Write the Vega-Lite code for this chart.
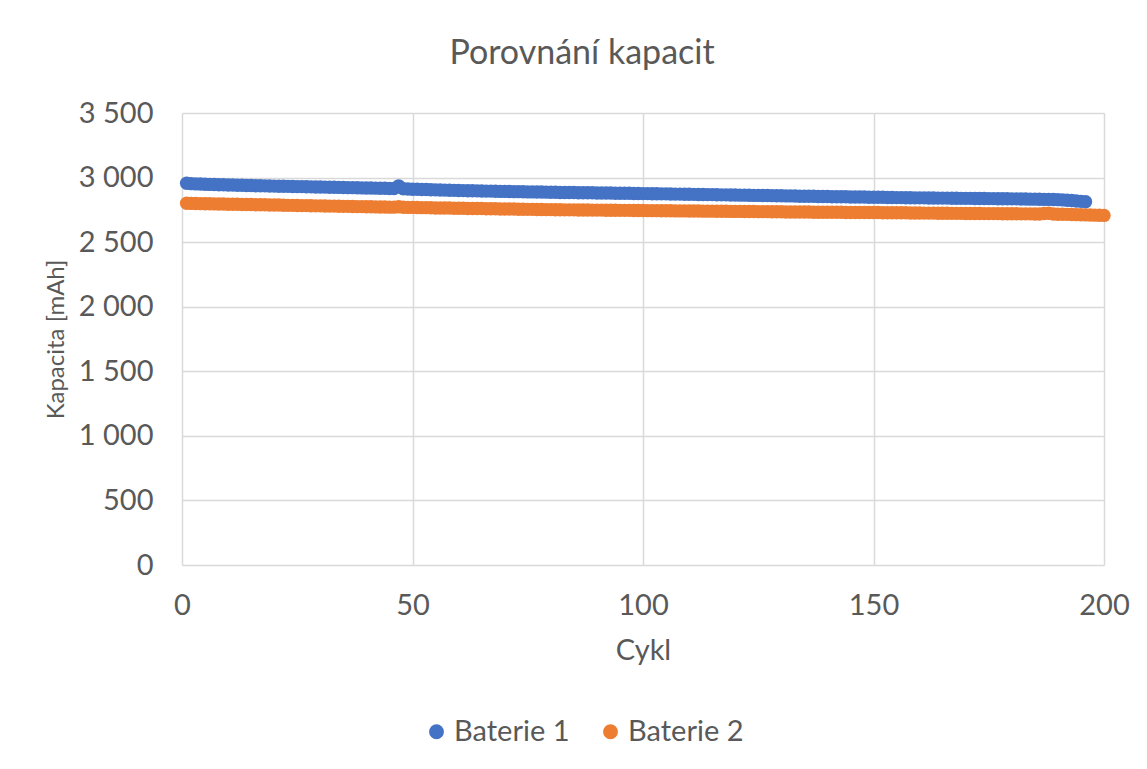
{
  "$schema": "https://vega.github.io/schema/vega-lite/v6.json",
  "autosize": {"type": "none"},
  "padding": {"left": 182, "top": 113, "right": 43, "bottom": 204},
  "width": 922,
  "height": 452,
  "background": "white",
  "title": {
    "text": "Porovnání kapacit",
    "anchor": "middle",
    "frame": "group",
    "dx": -61,
    "offset": 28,
    "font": "Lato",
    "fontSize": 34,
    "fontWeight": "normal",
    "color": "#595959"
  },
  "data": {
    "values": [
      {"c":1,"Baterie 1":2956,"Baterie 2":2801},{"c":2,"Baterie 1":2953,"Baterie 2":2800},{"c":3,"Baterie 1":2951,"Baterie 2":2799},{"c":4,"Baterie 1":2950,"Baterie 2":2798},{"c":5,"Baterie 1":2948,"Baterie 2":2797},
      {"c":6,"Baterie 1":2947,"Baterie 2":2797},{"c":7,"Baterie 1":2946,"Baterie 2":2796},{"c":8,"Baterie 1":2945,"Baterie 2":2795},{"c":9,"Baterie 1":2944,"Baterie 2":2795},{"c":10,"Baterie 1":2943,"Baterie 2":2794},
      {"c":11,"Baterie 1":2942,"Baterie 2":2793},{"c":12,"Baterie 1":2941,"Baterie 2":2793},{"c":13,"Baterie 1":2940,"Baterie 2":2792},{"c":14,"Baterie 1":2939,"Baterie 2":2791},{"c":15,"Baterie 1":2938,"Baterie 2":2791},
      {"c":16,"Baterie 1":2937,"Baterie 2":2790},{"c":17,"Baterie 1":2937,"Baterie 2":2789},{"c":18,"Baterie 1":2936,"Baterie 2":2789},{"c":19,"Baterie 1":2935,"Baterie 2":2788},{"c":20,"Baterie 1":2934,"Baterie 2":2787},
      {"c":21,"Baterie 1":2933,"Baterie 2":2787},{"c":22,"Baterie 1":2933,"Baterie 2":2786},{"c":23,"Baterie 1":2932,"Baterie 2":2785},{"c":24,"Baterie 1":2931,"Baterie 2":2785},{"c":25,"Baterie 1":2930,"Baterie 2":2784},
      {"c":26,"Baterie 1":2930,"Baterie 2":2783},{"c":27,"Baterie 1":2929,"Baterie 2":2783},{"c":28,"Baterie 1":2928,"Baterie 2":2782},{"c":29,"Baterie 1":2927,"Baterie 2":2781},{"c":30,"Baterie 1":2927,"Baterie 2":2781},
      {"c":31,"Baterie 1":2926,"Baterie 2":2780},{"c":32,"Baterie 1":2925,"Baterie 2":2779},{"c":33,"Baterie 1":2925,"Baterie 2":2779},{"c":34,"Baterie 1":2924,"Baterie 2":2778},{"c":35,"Baterie 1":2923,"Baterie 2":2777},
      {"c":36,"Baterie 1":2922,"Baterie 2":2777},{"c":37,"Baterie 1":2922,"Baterie 2":2776},{"c":38,"Baterie 1":2921,"Baterie 2":2775},{"c":39,"Baterie 1":2920,"Baterie 2":2775},{"c":40,"Baterie 1":2919,"Baterie 2":2774},
      {"c":41,"Baterie 1":2919,"Baterie 2":2774},{"c":42,"Baterie 1":2918,"Baterie 2":2773},{"c":43,"Baterie 1":2917,"Baterie 2":2772},{"c":44,"Baterie 1":2917,"Baterie 2":2772},{"c":45,"Baterie 1":2916,"Baterie 2":2771},
      {"c":46,"Baterie 1":2915,"Baterie 2":2771},{"c":47,"Baterie 1":2936,"Baterie 2":2774},{"c":48,"Baterie 1":2914,"Baterie 2":2770},{"c":49,"Baterie 1":2912,"Baterie 2":2769},{"c":50,"Baterie 1":2910,"Baterie 2":2769},
      {"c":51,"Baterie 1":2909,"Baterie 2":2768},{"c":52,"Baterie 1":2908,"Baterie 2":2767},{"c":53,"Baterie 1":2907,"Baterie 2":2767},{"c":54,"Baterie 1":2906,"Baterie 2":2766},{"c":55,"Baterie 1":2905,"Baterie 2":2765},
      {"c":56,"Baterie 1":2904,"Baterie 2":2765},{"c":57,"Baterie 1":2903,"Baterie 2":2764},{"c":58,"Baterie 1":2902,"Baterie 2":2764},{"c":59,"Baterie 1":2901,"Baterie 2":2763},{"c":60,"Baterie 1":2900,"Baterie 2":2762},
      {"c":61,"Baterie 1":2899,"Baterie 2":2762},{"c":62,"Baterie 1":2898,"Baterie 2":2761},{"c":63,"Baterie 1":2898,"Baterie 2":2761},{"c":64,"Baterie 1":2897,"Baterie 2":2760},{"c":65,"Baterie 1":2896,"Baterie 2":2760},
      {"c":66,"Baterie 1":2895,"Baterie 2":2759},{"c":67,"Baterie 1":2895,"Baterie 2":2758},{"c":68,"Baterie 1":2894,"Baterie 2":2758},{"c":69,"Baterie 1":2893,"Baterie 2":2757},{"c":70,"Baterie 1":2893,"Baterie 2":2757},
      {"c":71,"Baterie 1":2892,"Baterie 2":2756},{"c":72,"Baterie 1":2891,"Baterie 2":2756},{"c":73,"Baterie 1":2891,"Baterie 2":2755},{"c":74,"Baterie 1":2890,"Baterie 2":2755},{"c":75,"Baterie 1":2889,"Baterie 2":2754},
      {"c":76,"Baterie 1":2889,"Baterie 2":2754},{"c":77,"Baterie 1":2888,"Baterie 2":2753},{"c":78,"Baterie 1":2888,"Baterie 2":2753},{"c":79,"Baterie 1":2887,"Baterie 2":2752},{"c":80,"Baterie 1":2886,"Baterie 2":2752},
      {"c":81,"Baterie 1":2886,"Baterie 2":2751},{"c":82,"Baterie 1":2885,"Baterie 2":2751},{"c":83,"Baterie 1":2885,"Baterie 2":2750},{"c":84,"Baterie 1":2884,"Baterie 2":2750},{"c":85,"Baterie 1":2884,"Baterie 2":2750},
      {"c":86,"Baterie 1":2883,"Baterie 2":2749},{"c":87,"Baterie 1":2883,"Baterie 2":2749},{"c":88,"Baterie 1":2882,"Baterie 2":2749},{"c":89,"Baterie 1":2882,"Baterie 2":2748},{"c":90,"Baterie 1":2881,"Baterie 2":2748},
      {"c":91,"Baterie 1":2881,"Baterie 2":2748},{"c":92,"Baterie 1":2880,"Baterie 2":2747},{"c":93,"Baterie 1":2880,"Baterie 2":2747},{"c":94,"Baterie 1":2879,"Baterie 2":2747},{"c":95,"Baterie 1":2879,"Baterie 2":2746},
      {"c":96,"Baterie 1":2878,"Baterie 2":2746},{"c":97,"Baterie 1":2878,"Baterie 2":2746},{"c":98,"Baterie 1":2877,"Baterie 2":2745},{"c":99,"Baterie 1":2877,"Baterie 2":2745},{"c":100,"Baterie 1":2876,"Baterie 2":2745},
      {"c":101,"Baterie 1":2876,"Baterie 2":2744},{"c":102,"Baterie 1":2875,"Baterie 2":2744},{"c":103,"Baterie 1":2875,"Baterie 2":2744},{"c":104,"Baterie 1":2874,"Baterie 2":2743},{"c":105,"Baterie 1":2874,"Baterie 2":2743},
      {"c":106,"Baterie 1":2873,"Baterie 2":2743},{"c":107,"Baterie 1":2872,"Baterie 2":2742},{"c":108,"Baterie 1":2872,"Baterie 2":2742},{"c":109,"Baterie 1":2871,"Baterie 2":2742},{"c":110,"Baterie 1":2871,"Baterie 2":2741},
      {"c":111,"Baterie 1":2870,"Baterie 2":2741},{"c":112,"Baterie 1":2869,"Baterie 2":2741},{"c":113,"Baterie 1":2869,"Baterie 2":2740},{"c":114,"Baterie 1":2868,"Baterie 2":2740},{"c":115,"Baterie 1":2868,"Baterie 2":2740},
      {"c":116,"Baterie 1":2867,"Baterie 2":2739},{"c":117,"Baterie 1":2866,"Baterie 2":2739},{"c":118,"Baterie 1":2866,"Baterie 2":2739},{"c":119,"Baterie 1":2865,"Baterie 2":2738},{"c":120,"Baterie 1":2865,"Baterie 2":2738},
      {"c":121,"Baterie 1":2864,"Baterie 2":2738},{"c":122,"Baterie 1":2864,"Baterie 2":2737},{"c":123,"Baterie 1":2863,"Baterie 2":2737},{"c":124,"Baterie 1":2862,"Baterie 2":2737},{"c":125,"Baterie 1":2862,"Baterie 2":2736},
      {"c":126,"Baterie 1":2861,"Baterie 2":2736},{"c":127,"Baterie 1":2861,"Baterie 2":2736},{"c":128,"Baterie 1":2860,"Baterie 2":2735},{"c":129,"Baterie 1":2859,"Baterie 2":2735},{"c":130,"Baterie 1":2859,"Baterie 2":2735},
      {"c":131,"Baterie 1":2858,"Baterie 2":2734},{"c":132,"Baterie 1":2858,"Baterie 2":2734},{"c":133,"Baterie 1":2857,"Baterie 2":2734},{"c":134,"Baterie 1":2856,"Baterie 2":2733},{"c":135,"Baterie 1":2856,"Baterie 2":2733},
      {"c":136,"Baterie 1":2855,"Baterie 2":2733},{"c":137,"Baterie 1":2855,"Baterie 2":2732},{"c":138,"Baterie 1":2854,"Baterie 2":2732},{"c":139,"Baterie 1":2853,"Baterie 2":2732},{"c":140,"Baterie 1":2853,"Baterie 2":2731},
      {"c":141,"Baterie 1":2852,"Baterie 2":2731},{"c":142,"Baterie 1":2852,"Baterie 2":2731},{"c":143,"Baterie 1":2851,"Baterie 2":2731},{"c":144,"Baterie 1":2851,"Baterie 2":2730},{"c":145,"Baterie 1":2850,"Baterie 2":2730},
      {"c":146,"Baterie 1":2850,"Baterie 2":2730},{"c":147,"Baterie 1":2849,"Baterie 2":2730},{"c":148,"Baterie 1":2849,"Baterie 2":2729},{"c":149,"Baterie 1":2848,"Baterie 2":2729},{"c":150,"Baterie 1":2848,"Baterie 2":2729},
      {"c":151,"Baterie 1":2847,"Baterie 2":2729},{"c":152,"Baterie 1":2847,"Baterie 2":2728},{"c":153,"Baterie 1":2846,"Baterie 2":2728},{"c":154,"Baterie 1":2846,"Baterie 2":2728},{"c":155,"Baterie 1":2845,"Baterie 2":2727},
      {"c":156,"Baterie 1":2845,"Baterie 2":2727},{"c":157,"Baterie 1":2844,"Baterie 2":2727},{"c":158,"Baterie 1":2844,"Baterie 2":2726},{"c":159,"Baterie 1":2843,"Baterie 2":2726},{"c":160,"Baterie 1":2843,"Baterie 2":2726},
      {"c":161,"Baterie 1":2843,"Baterie 2":2725},{"c":162,"Baterie 1":2842,"Baterie 2":2725},{"c":163,"Baterie 1":2842,"Baterie 2":2725},{"c":164,"Baterie 1":2841,"Baterie 2":2724},{"c":165,"Baterie 1":2841,"Baterie 2":2724},
      {"c":166,"Baterie 1":2841,"Baterie 2":2724},{"c":167,"Baterie 1":2840,"Baterie 2":2723},{"c":168,"Baterie 1":2840,"Baterie 2":2723},{"c":169,"Baterie 1":2839,"Baterie 2":2723},{"c":170,"Baterie 1":2839,"Baterie 2":2722},
      {"c":171,"Baterie 1":2839,"Baterie 2":2722},{"c":172,"Baterie 1":2838,"Baterie 2":2722},{"c":173,"Baterie 1":2838,"Baterie 2":2722},{"c":174,"Baterie 1":2838,"Baterie 2":2721},{"c":175,"Baterie 1":2837,"Baterie 2":2721},
      {"c":176,"Baterie 1":2837,"Baterie 2":2721},{"c":177,"Baterie 1":2836,"Baterie 2":2721},{"c":178,"Baterie 1":2836,"Baterie 2":2720},{"c":179,"Baterie 1":2836,"Baterie 2":2720},{"c":180,"Baterie 1":2835,"Baterie 2":2720},
      {"c":181,"Baterie 1":2835,"Baterie 2":2720},{"c":182,"Baterie 1":2834,"Baterie 2":2719},{"c":183,"Baterie 1":2834,"Baterie 2":2719},{"c":184,"Baterie 1":2833,"Baterie 2":2719},{"c":185,"Baterie 1":2833,"Baterie 2":2718},
      {"c":186,"Baterie 1":2832,"Baterie 2":2718},{"c":187,"Baterie 1":2831,"Baterie 2":2722},{"c":188,"Baterie 1":2831,"Baterie 2":2724},{"c":189,"Baterie 1":2830,"Baterie 2":2718},{"c":190,"Baterie 1":2829,"Baterie 2":2716},
      {"c":191,"Baterie 1":2827,"Baterie 2":2716},{"c":192,"Baterie 1":2825,"Baterie 2":2715},{"c":193,"Baterie 1":2822,"Baterie 2":2714},{"c":194,"Baterie 1":2819,"Baterie 2":2713},{"c":195,"Baterie 1":2816,"Baterie 2":2712},
      {"c":196,"Baterie 1":2813,"Baterie 2":2711},{"c":197,"Baterie 2":2710},{"c":198,"Baterie 2":2709},{"c":199,"Baterie 2":2708},{"c":200,"Baterie 2":2707}
    ]
  },
  "transform": [
    {"fold": ["Baterie 1", "Baterie 2"], "as": ["serie", "kapacita"]},
    {"filter": "isValid(datum.kapacita)"}
  ],
  "mark": {"type": "point", "filled": true, "opacity": 1, "size": 180, "shape": "circle"},
  "encoding": {
    "x": {
      "field": "c",
      "type": "quantitative",
      "title": "Cykl",
      "scale": {"domain": [0, 200], "nice": false, "zero": false},
      "axis": {
        "values": [0, 50, 100, 150, 200],
        "domain": false,
        "ticks": false,
        "grid": true,
        "gridColor": "#d9d9d9",
        "gridWidth": 1.5,
        "labelFlush": false,
        "labelBound": false,
        "labelOverlap": false,
        "labelPadding": 26,
        "labelFont": "Lato",
        "labelFontSize": 29,
        "labelColor": "#595959",
        "titleFont": "Lato",
        "titleFontSize": 29,
        "titleFontWeight": "normal",
        "titleColor": "#595959",
        "titlePadding": 16
      }
    },
    "y": {
      "field": "kapacita",
      "type": "quantitative",
      "title": "Kapacita [mAh]",
      "scale": {"domain": [0, 3500], "nice": false},
      "axis": {
        "values": [0, 500, 1000, 1500, 2000, 2500, 3000, 3500],
        "labelExpr": "replace(format(datum.value, ','), ',', ' ')",
        "domain": false,
        "ticks": false,
        "grid": true,
        "gridColor": "#d9d9d9",
        "gridWidth": 1.5,
        "labelFlush": false,
        "labelBound": false,
        "labelOverlap": false,
        "labelPadding": 29,
        "labelFont": "Lato",
        "labelFontSize": 29,
        "labelColor": "#595959",
        "titleFont": "Lato",
        "titleFontSize": 24,
        "titleFontWeight": "normal",
        "titleColor": "#595959",
        "titlePadding": 10
      }
    },
    "color": {
      "field": "serie",
      "type": "nominal",
      "scale": {"domain": ["Baterie 1", "Baterie 2"], "range": ["#4472C4", "#ED7D31"]},
      "legend": {
        "title": null,
        "orient": "none",
        "direction": "horizontal",
        "legendX": 240,
        "legendY": 604,
        "symbolType": "circle",
        "symbolSize": 220,
        "symbolStrokeWidth": 0,
        "labelFont": "Lato",
        "labelFontSize": 29,
        "labelColor": "#595959",
        "labelOffset": 3,
        "columnPadding": 26
      }
    }
  },
  "config": {
    "view": {"stroke": null}
  }
}
